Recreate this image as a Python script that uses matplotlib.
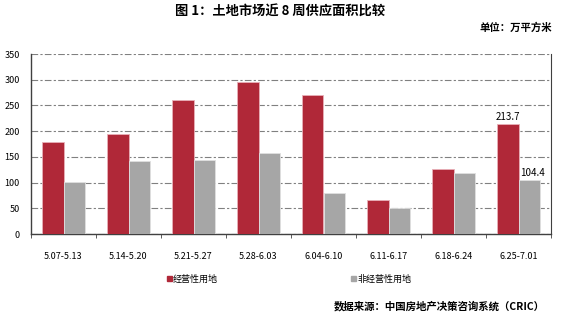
import matplotlib
matplotlib.use("Agg")
import matplotlib.pyplot as plt
import numpy as np

plt.rcParams['font.family'] = ['Noto Sans CJK SC', 'DejaVu Sans']

categories = ["5.07-5.13", "5.14-5.20", "5.21-5.27", "5.28-6.03", "6.04-6.10", "6.11-6.17", "6.18-6.24", "6.25-7.01"]
commercial = [179, 194, 260, 295, 270, 66, 126, 213.7]
noncommercial = [102, 142, 144, 157, 79, 50, 118, 104.4]
series_names = ["经营性用地", "非经营性用地"]
yticks = [0, 50, 100, 150, 200, 250, 300, 350]

red = "#B02838"
gray = "#A6A6A6"

fig = plt.figure(figsize=(5.65, 3.14), dpi=100)
ax = fig.add_axes([31/565, 1-234/314, (551-31)/565, (234-54)/314])

x = np.arange(len(categories))
w = 0.33
ax.bar(x - w/2, commercial, w, color=red, edgecolor="#E8B0B8", linewidth=0.6, label=series_names[0], zorder=3)
ax.bar(x + w/2, noncommercial, w, color=gray, edgecolor="#E0E0E0", linewidth=0.6, label=series_names[1], zorder=3)

ax.set_xlim(-0.5, len(categories) - 0.5)
ax.set_ylim(0, 350)
ax.set_yticks(yticks)
ax.set_yticklabels([str(v) for v in yticks], fontsize=6.5)
ax.tick_params(axis='y', length=0, pad=8)
ax.set_xticks(x)
ax.set_xticklabels(categories, fontsize=6.5)
ax.set_xticks(np.arange(len(categories) + 1) - 0.5, minor=True)
ax.tick_params(axis='x', which='major', length=0, pad=13)
ax.tick_params(axis='x', which='minor', length=3, direction='out', color='#404040')

ax.grid(axis='y', color='#808080', linestyle=(0, (6, 2, 2, 2)), linewidth=0.8, zorder=0)
for s in ['left', 'bottom']:
    ax.spines[s].set_color('#404040')
    ax.spines[s].set_linewidth(1.0)
ax.spines['right'].set_color('#404040')
ax.spines['right'].set_linewidth(0.8)
ax.spines['top'].set_visible(False)

i = len(categories) - 1
ax.text(x[i] - w/2, commercial[i] + 4, f"{commercial[i]}", ha='center', va='bottom', fontsize=7)
ax.text(x[i] + w/2 + 0.05, noncommercial[i] + 4, f"{noncommercial[i]}", ha='center', va='bottom', fontsize=7)

fig.text(280/565, 1-12/314, "图 1：土地市场近 8 周供应面积比较", ha='center', va='center', fontsize=9.5, fontweight='bold')
fig.text(552/565, 1-28/314, "单位：万平方米", ha='right', va='center', fontsize=7.5, fontweight='bold')

# legend
fig.patches.append(matplotlib.patches.Rectangle((167/565, 1-281/314), 5/565, 5/314, transform=fig.transFigure, color=red))
fig.text(173/565, 1-279/314, series_names[0], ha='left', va='center', fontsize=6.5)
fig.patches.append(matplotlib.patches.Rectangle((351/565, 1-281/314), 5/565, 5/314, transform=fig.transFigure, color=gray))
fig.text(357/565, 1-279/314, series_names[1], ha='left', va='center', fontsize=6.5)

fig.text(545/565, 1-306/314, "数据来源：中国房地产决策咨询系统（CRIC）", ha='right', va='center', fontsize=7.5, fontweight='bold')

fig.savefig("out.png", dpi=100)
